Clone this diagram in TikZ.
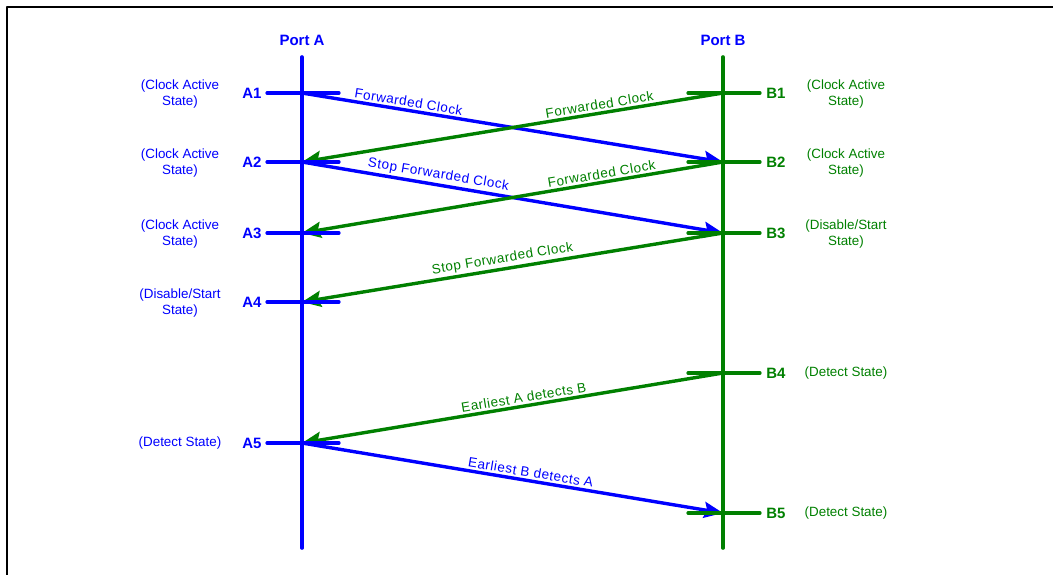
\documentclass[tikz,border=0pt]{standalone}
\usepackage{fontspec}
\setmainfont{Liberation Sans}
\usepackage{xcolor}
\usetikzlibrary{arrows.meta}
\definecolor{pbgreen}{RGB}{0,128,0}
\tikzset{
  lane/.style={line width=3.6pt},
  evtick/.style={line width=3.2pt},
  msg/.style={line width=3.4pt, -{Stealth[length=19pt,width=16pt,inset=3pt]}},
  msglbl/.style={sloped, above, inner sep=2pt, font=\fontsize{13.5}{13.5}\selectfont\addfontfeature{LetterSpace=4}},
  evlbl/.style={font=\bfseries\fontsize{15}{15}\selectfont},
  stlbl/.style={align=center, font=\fontsize{13.4}{16}\selectfont},
  every picture/.style={line cap=round, line join=round}
}

\begin{document}
\begin{tikzpicture}[x=1pt, y=1pt]
  \useasboundingbox (0,0) rectangle (1053,-574);
  \draw[line width=2pt, line cap=butt] (7,-600) |- (1080,-7);

  % events on each port
  \foreach \n/\y in {1/93,2/162,3/233,4/302,5/443}
    \coordinate (A\n) at (302,-\y);
  \foreach \n/\y in {1/93,2/162,3/233,4/373,5/513}
    \coordinate (B\n) at (723,-\y);

  \node[evlbl, blue] (pA) at (302,-40) {Port A};
  \node[evlbl, blue] (pB) at (723,-40) {Port B};
  \coordinate (pAtop) at (302,-57);
  \coordinate (pAbot) at (302,-548);
  \coordinate (pBtop) at (723,-57);
  \coordinate (pBbot) at (723,-548);

  % messages
  \draw[msg, blue] (A1) -- node[msglbl, pos=0.25] {Forwarded Clock} (B2);
  \draw[msg, pbgreen] (B1) -- node[msglbl, pos=0.29] {Forwarded Clock} (A2);
  \draw[msg, blue] (A2) -- node[msglbl, pos=0.32] {Stop Forwarded Clock} (B3);
  \draw[msg, pbgreen] (B2) -- node[msglbl, pos=0.285] {Forwarded Clock} (A3);
  \draw[msg, pbgreen] (B3) -- node[msglbl, pos=0.52] {Stop Forwarded Clock} (A4);
  \draw[msg, pbgreen] (B4) -- node[msglbl, pos=0.47] {Earliest A detects B} (A5);
  \draw[msg, blue] (A5) -- node[msglbl, pos=0.54] {Earliest B detects A} (B5);

  % ticks and lanes
  \foreach \n in {1,...,5} {
    \draw[evtick, blue] ([xshift=-35pt]A\n) -- ([xshift=37pt]A\n);
    \draw[evtick, pbgreen] ([xshift=-35pt]B\n) -- ([xshift=37pt]B\n);
  }
  \draw[lane, blue] (pAtop) -- (pAbot);
  \draw[lane, pbgreen] (pBtop) -- (pBbot);

  % event names and states
  \foreach \n in {1,...,5} {
    \node[evlbl, blue] (lA\n) at ([xshift=-50pt]A\n) {A\n};
    \node[evlbl, pbgreen] (lB\n) at ([xshift=53pt]B\n) {B\n};
  }
  \node[stlbl, blue] (sA1) at ([xshift=-122pt, yshift=-1pt]A1) {(Clock Active\\State)};
  \node[stlbl, blue] (sA2) at ([xshift=-122pt, yshift=-1pt]A2) {(Clock Active\\State)};
  \node[stlbl, blue] (sA3) at ([xshift=-122pt, yshift=-1pt]A3) {(Clock Active\\State)};
  \node[stlbl, blue] (sA4) at ([xshift=-122pt, yshift=-1pt]A4) {(Disable/Start\\State)};
  \node[stlbl, blue] (sA5) at ([xshift=-122pt]A5) {(Detect State)};
  \node[stlbl, pbgreen] (sB1) at ([xshift=123pt, yshift=-1pt]B1) {(Clock Active\\State)};
  \node[stlbl, pbgreen] (sB2) at ([xshift=123pt, yshift=-1pt]B2) {(Clock Active\\State)};
  \node[stlbl, pbgreen] (sB3) at ([xshift=123pt, yshift=-1pt]B3) {(Disable/Start\\State)};
  \node[stlbl, pbgreen] (sB4) at ([xshift=123pt]B4) {(Detect State)};
  \node[stlbl, pbgreen] (sB5) at ([xshift=123pt]B5) {(Detect State)};
\end{tikzpicture}
\end{document}
